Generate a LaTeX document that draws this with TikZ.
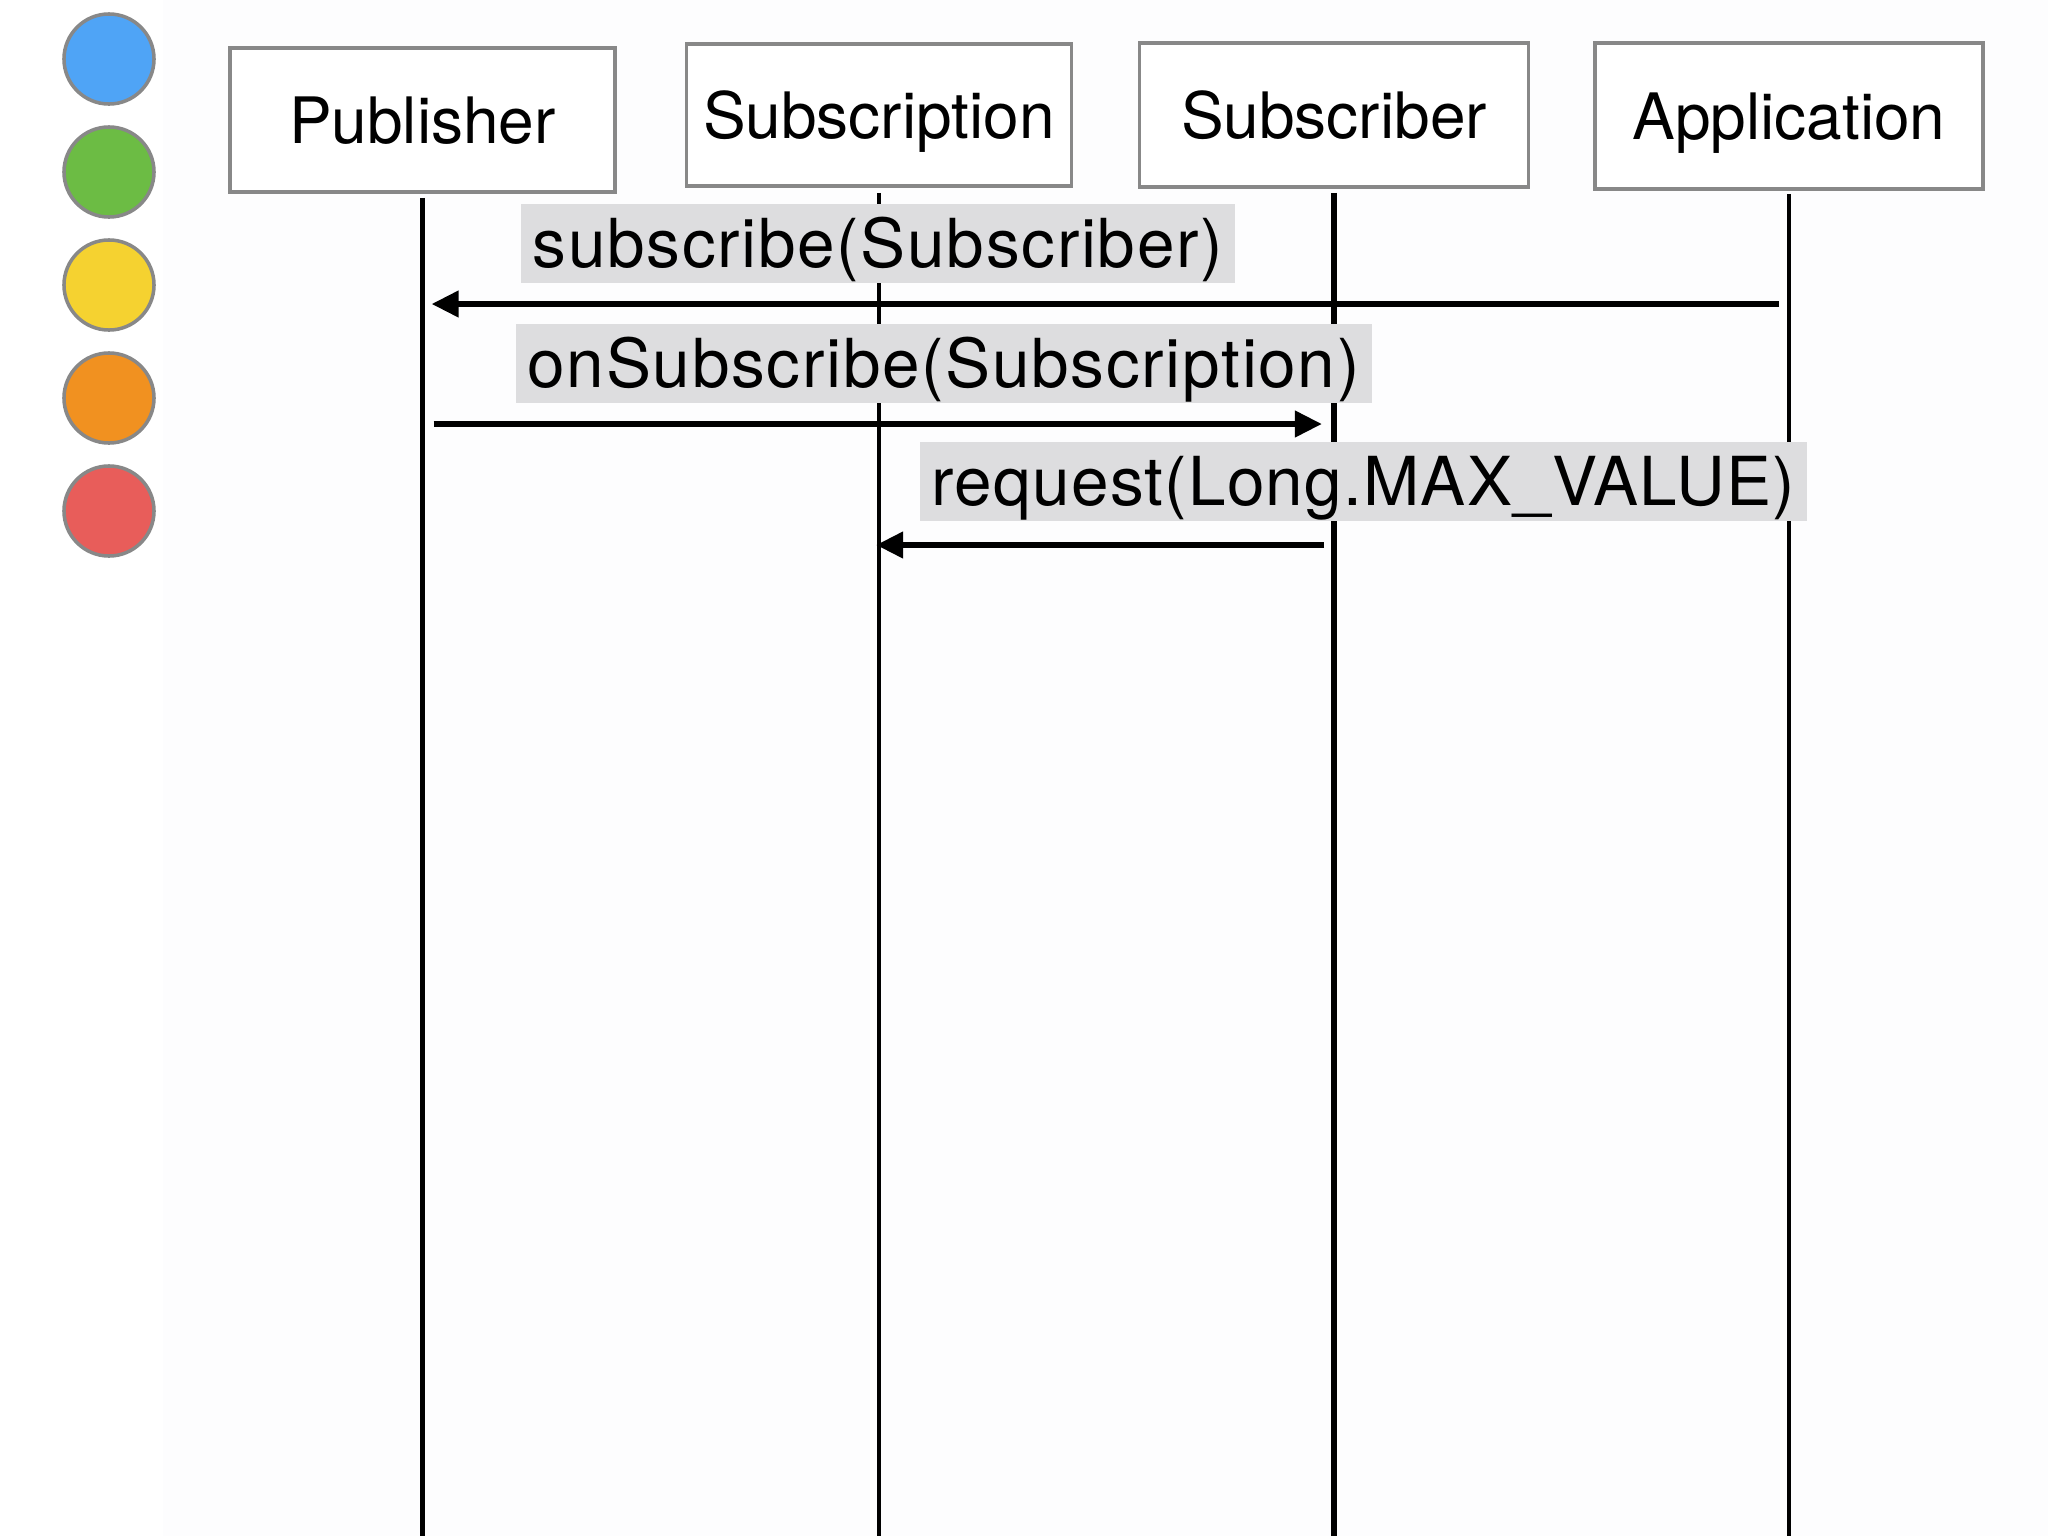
\documentclass[tikz,border=0pt]{standalone}
\usepackage{fontspec}
\usetikzlibrary{arrows.meta}
\newfontfamily\hv{TeX Gyre Heros}
\newfontfamily\hvl[LetterSpace=2.5]{TeX Gyre Heros}
\newfontfamily\hvm[LetterSpace=1.8]{TeX Gyre Heros}
\definecolor{bgoff}{RGB}{253,253,254}
\definecolor{boxline}{RGB}{136,136,136}
\definecolor{labelbg}{RGB}{221,221,223}
\definecolor{cblue}{RGB}{79,164,246}
\definecolor{cgreen}{RGB}{108,188,68}
\definecolor{cyellow}{RGB}{245,210,48}
\definecolor{corange}{RGB}{241,145,32}
\definecolor{cred}{RGB}{232,93,90}
\tikzset{
  actor/.style={draw=boxline, line width=1pt, fill=white, inner sep=0pt,
    font=\hv\fontsize{18.2pt}{22pt}\selectfont, text height=13.1pt, text depth=0pt},
  lifeline/.style={line width=1.4pt, black},
  msg/.style={line width=1.75pt, black, -{Triangle[length=7.7pt, width=7.2pt]}},
  msglabel/.style={fill=labelbg, inner xsep=0.12cm, inner ysep=0pt,
    text height=0.63cm, text depth=0.16cm, anchor=base west,
    font=\hvl\fontsize{19.2pt}{23pt}\selectfont},
  dot/.style={circle, draw=boxline, line width=1pt, minimum size=0.9cm, inner sep=0pt}
}
\begin{document}
\begin{tikzpicture}[x=0.01cm, y=-0.01cm]
\useasboundingbox (0,0) rectangle (2048,1536);
\fill[white] (0,0) rectangle (2048,1536);
\fill[bgoff] (163,0) rectangle (2048,1536);

% actors
\node[actor, minimum width=3.85cm, minimum height=1.44cm] (pub) at (422.5,120) {Publisher};
\node[actor, minimum width=3.85cm, minimum height=1.42cm] (subn) at (879,115) {Subscription};
\node[actor, minimum width=3.89cm, minimum height=1.44cm] (subr) at (1334,115) {Subscriber};
\node[actor, minimum width=3.88cm, minimum height=1.46cm] (app) at (1789,116) {Application};

% rows
\coordinate (bot) at (0,1536);
\coordinate (r1) at (0,304);
\coordinate (r2) at (0,424);
\coordinate (r3) at (0,545);

% lifelines
\draw[lifeline, line width=1.5pt] ([yshift=-0.04cm]pub.south) -- (pub.south |- bot);
\draw[lifeline] ([yshift=-0.05cm]subn.south) -- (subn.south |- bot);
\draw[lifeline, line width=1.5pt] ([yshift=-0.04cm]subr.south) -- (subr.south |- bot);
\draw[lifeline] ([yshift=-0.03cm]app.south) -- (app.south |- bot);

% message anchors on lifelines
\coordinate (a1) at (app |- r1);
\coordinate (p1) at (pub |- r1);
\coordinate (p2) at (pub |- r2);
\coordinate (s2) at (subr |- r2);
\coordinate (s3) at (subr |- r3);
\coordinate (n3) at (subn |- r3);

% messages
\draw[msg] ([xshift=-0.1cm]a1) -- ([xshift=0.09cm]p1);
\draw[msg] ([xshift=0.11cm]p2) -- ([xshift=-0.12cm]s2);
\draw[msg] ([xshift=-0.1cm]s3) -- ([xshift=-0.03cm]n3);

% labels
\node[msglabel] (l1) at (520,267) {subscribe(Subscriber)};
\node[msglabel] (l2) at (515,387) {onSubscribe(Subscription)};
\node[msglabel, font=\hvm\fontsize{19.2pt}{23pt}\selectfont] (l3) at (919,505) {request(Long.MAX\_VALUE)};

% colour dots
\node[dot, fill=cblue] (d1) at (109,59) {};
\node[dot, fill=cgreen] (d2) at (109,172) {};
\node[dot, fill=cyellow] (d3) at (109,285) {};
\node[dot, fill=corange] (d4) at (109,398) {};
\node[dot, fill=cred] (d5) at (109,511) {};
\end{tikzpicture}
\end{document}
